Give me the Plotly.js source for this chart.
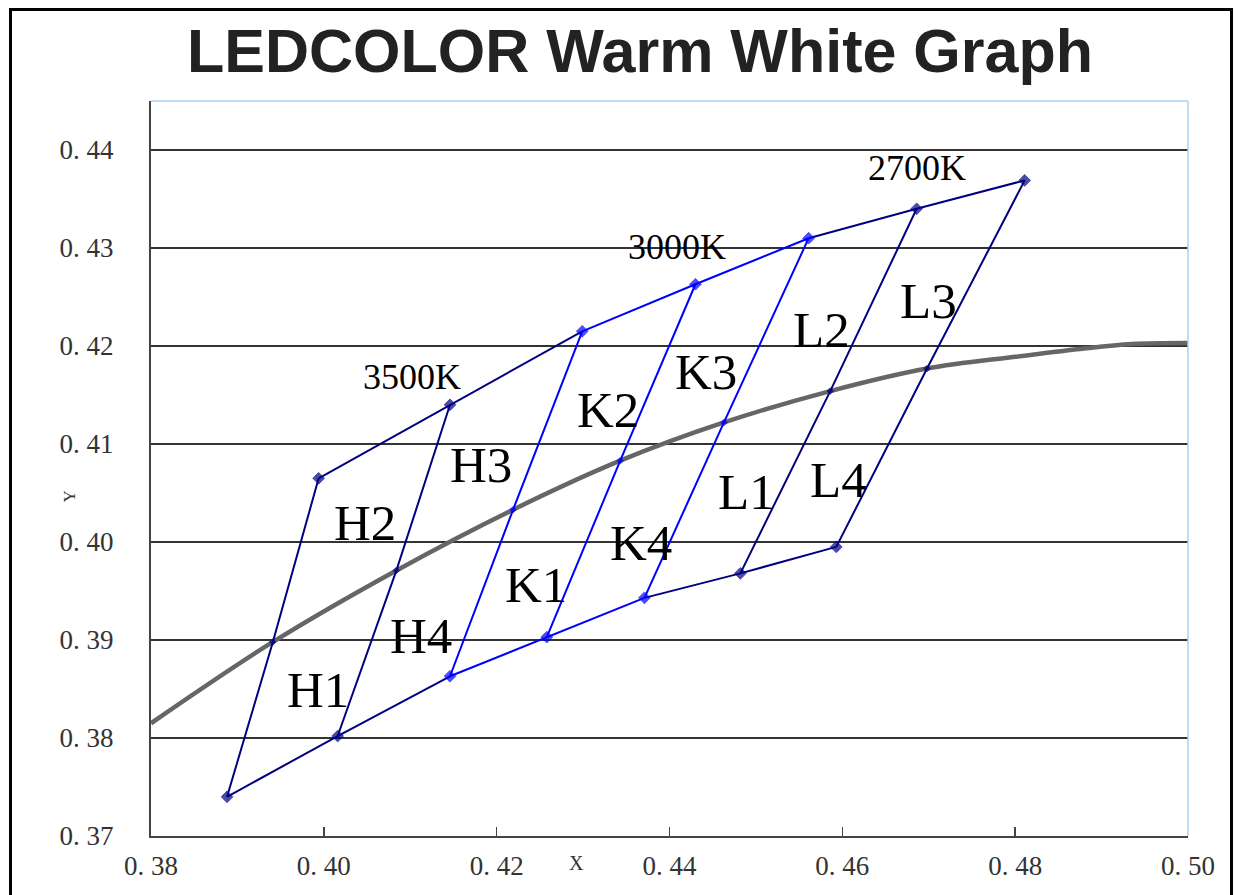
<!DOCTYPE html>
<html><head><meta charset="utf-8">
<script src="https://cdn.plot.ly/plotly-3.0.1.min.js"></script>
<style>html,body{margin:0;padding:0;background:#fff;overflow:hidden;} #chart{width:1241px;height:895px;}</style>
</head><body><div id="chart"></div>
<script>
// Bin corner points (CIE 1931 x, y): upper edge, on the locus, lower edge
const topX = [0.3994, 0.4146, 0.4299, 0.4430, 0.4561, 0.4686, 0.4811];
const topY = [0.4065, 0.4140, 0.4215, 0.4263, 0.4310, 0.4340, 0.4369];
const midX = [0.3941, 0.4084, 0.4219, 0.4343, 0.4463, 0.4586, 0.4698];
const midY = [0.3898, 0.3971, 0.4033, 0.4083, 0.4122, 0.4154, 0.4177];
const botX = [0.3888, 0.4016, 0.4146, 0.4258, 0.4371, 0.4482, 0.4593];
const botY = [0.3740, 0.3802, 0.3863, 0.3903, 0.3943, 0.3968, 0.3995];

// Black body locus
const locusX = [0.380, 0.3941, 0.4084, 0.4219, 0.4343, 0.4463, 0.4586, 0.4698, 0.4800, 0.4875, 0.4935, 0.5000];
const locusY = [0.3815, 0.3898, 0.3971, 0.4033, 0.4083, 0.4122, 0.4154, 0.4177, 0.4189, 0.4197, 0.4202, 0.4203];

// CCT groups: span of columns and columns owned
const groupNames = ['3500K', '3000K', '2700K'];
const groupSpan = [[0, 2], [2, 4], [4, 6]];
const groupOwn = [[0, 1], [2, 3, 4], [5, 6]];

// Labels
const cctLabelX = [0.4102, 0.4409, 0.4686];
const cctLabelY = [0.4168, 0.4301, 0.4382];
const binLabels = ['H1', 'H2', 'H3', 'H4', 'K1', 'K2', 'K3', 'K4', 'L1', 'L2', 'L3', 'L4'];
const binLabelX = [0.3993, 0.4048, 0.4182, 0.4112, 0.4246, 0.4329, 0.4442, 0.4367, 0.4489, 0.4576, 0.4700, 0.4595];
const binLabelY = [0.3849, 0.4019, 0.4079, 0.3904, 0.3956, 0.4135, 0.4173, 0.3999, 0.4051, 0.4216, 0.4246, 0.4063];

const xTicks = [0.38, 0.40, 0.42, 0.44, 0.46, 0.48, 0.50];
const xTickText = ['0. 38', '0. 40', '0. 42', '0. 44', '0. 46', '0. 48', '0. 50'];
const yTicks = [0.37, 0.38, 0.39, 0.40, 0.41, 0.42, 0.43, 0.44];
const yTickText = ['0. 37', '0. 38', '0. 39', '0. 40', '0. 41', '0. 42', '0. 43', '0. 44'];

const NAVY = '#000080', BLUE = '#0000ff';
const groupColor = [NAVY, BLUE, NAVY];

const traces = [];
traces.push({
  x: locusX, y: locusY, mode: 'lines', type: 'scatter',
  line: {color: '#666666', width: 4.5, shape: 'spline'}, hoverinfo: 'skip'
});

function groupLines(g) {
  const xs = [], ys = [];
  const [a, b] = groupSpan[g];
  for (let i = a; i <= b; i++) { xs.push(topX[i]); ys.push(topY[i]); }
  xs.push(null); ys.push(null);
  for (let i = a; i <= b; i++) { xs.push(botX[i]); ys.push(botY[i]); }
  xs.push(null); ys.push(null);
  groupOwn[g].forEach(i => {
    xs.push(topX[i], midX[i], botX[i], null);
    ys.push(topY[i], midY[i], botY[i], null);
  });
  return {x: xs, y: ys, mode: 'lines', type: 'scatter', connectgaps: false,
    line: {color: groupColor[g], width: 2}, name: groupNames[g], hoverinfo: 'skip'};
}
function groupMarkers(g) {
  const xs = [], ys = [], sz = [];
  groupOwn[g].forEach(i => {
    xs.push(topX[i], botX[i], midX[i]);
    ys.push(topY[i], botY[i], midY[i]);
    sz.push(9, 9, 5);
  });
  return {x: xs, y: ys, mode: 'markers', type: 'scatter',
    marker: {symbol: 'diamond', size: sz, color: groupColor[g], line: {width: 1, color: groupColor[g]}}, name: groupNames[g]};
}
[0, 2, 1].forEach(g => traces.push(groupLines(g)));
[0, 2, 1].forEach(g => traces.push(groupMarkers(g)));

const annotations = [];
groupNames.forEach((t, i) => annotations.push({
  x: cctLabelX[i], y: cctLabelY[i], text: t, showarrow: false,
  font: {family: 'Liberation Serif, serif', size: 36, color: '#000'}
}));
binLabels.forEach((t, i) => annotations.push({
  x: binLabelX[i], y: binLabelY[i], text: t, showarrow: false,
  font: {family: 'Liberation Serif, serif', size: 51, color: '#000'}
}));
annotations.push({xref: 'paper', yref: 'paper', x: (576 - 151) / 1037, y: (836 - 876) / 735,
  text: 'X', showarrow: false, font: {family: 'Liberation Serif, serif', size: 20, color: '#333'}});
annotations.push({xref: 'paper', yref: 'paper', x: (57 - 151) / 1037, y: (836 - 497) / 735,
  text: 'Y', textangle: -90, showarrow: false, font: {family: 'Liberation Serif, serif', size: 17, color: '#333'}});

const fx = p => (p - 151) / 1037, fy = p => (836 - p) / 735;
const layout = {
  width: 1241, height: 895,
  margin: {l: 151, r: 53, t: 101, b: 59},
  paper_bgcolor: '#fff', plot_bgcolor: '#fff',
  showlegend: false,
  title: {text: 'LEDCOLOR Warm White Graph', x: 640 / 1241, xanchor: 'center', xref: 'container',
    y: 1 - 51 / 895, yanchor: 'middle', yref: 'container',
    font: {family: 'Liberation Sans, Arial, sans-serif', size: 61, weight: 'bold', color: '#222'}},
  xaxis: {range: [0.38, 0.50], tickvals: xTicks, ticktext: xTickText, ticks: 'inside', ticklen: 9,
    tickwidth: 1.5, tickcolor: '#444', showgrid: false, zeroline: false, showline: true,
    linecolor: '#444', linewidth: 2, ticklabelstandoff: 5,
    tickfont: {family: 'Liberation Serif, serif', size: 27, color: '#333'}},
  yaxis: {range: [0.37, 0.445], tickvals: yTicks, ticktext: yTickText, ticks: '',
    showgrid: true, gridcolor: '#333', gridwidth: 1.5, zeroline: false, showline: true,
    linecolor: '#444', linewidth: 2, ticklabelstandoff: 30,
    tickfont: {family: 'Liberation Serif, serif', size: 27, color: '#333'}},
  annotations: annotations,
  shapes: [
    {type: 'line', xref: 'paper', yref: 'paper', x0: 0, x1: 1, y0: 1, y1: 1, line: {color: '#a9d1f5', width: 1.5}},
    {type: 'line', xref: 'paper', yref: 'paper', x0: 1, x1: 1, y0: 0, y1: 1, line: {color: '#a9d1f5', width: 1.5}},
    {type: 'path', xref: 'paper', yref: 'paper',
      path: `M ${fx(10.5)} ${fy(900)} L ${fx(10.5)} ${fy(9.5)} L ${fx(1231.5)} ${fy(9.5)} L ${fx(1231.5)} ${fy(900)}`,
      line: {color: '#000', width: 3}}
  ]
};
Plotly.newPlot('chart', traces, layout, {staticPlot: true});
</script></body></html>
